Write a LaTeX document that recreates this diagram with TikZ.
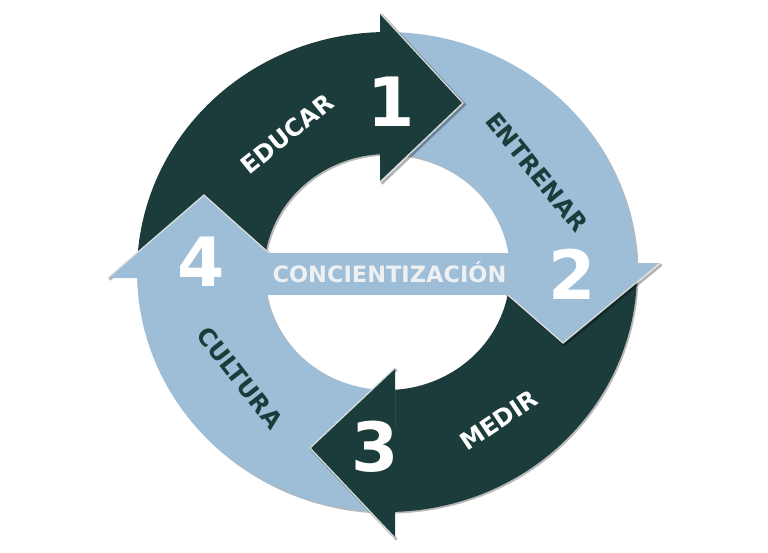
\documentclass[tikz,border=0pt]{standalone}
\usepackage{fontspec}
\setmainfont{DejaVu Sans}
\definecolor{dk}{HTML}{1B3C3A}
\definecolor{lt}{HTML}{9EBDD7}
\definecolor{edgec}{HTML}{D9DCDE}
\definecolor{bantxt}{HTML}{EEF0F1}
\newcommand\bodyone{plot[domain=181.43:91.6,samples=60] ({387+250*cos(\x)},{272-240*sin(\x)})
  -- plot[domain=93.26:182.9,samples=60] ({387+123*cos(\x)},{272-118*sin(\x)}) -- cycle}
\newcommand\bodytwo{plot[domain=91.6:2.15,samples=60] ({387+250*cos(\x)},{272-240*sin(\x)})
  -- plot[domain=4.37:93.26,samples=60] ({387+123*cos(\x)},{272-118*sin(\x)}) -- cycle}
\newcommand\bodythree{plot[domain=2.15:-88.17,samples=60] ({387+250*cos(\x)},{272-240*sin(\x)})
  -- plot[domain=-86.27:4.37,samples=60] ({387+123*cos(\x)},{272-118*sin(\x)}) -- cycle}
\newcommand\bodyfour{plot[domain=-88.17:-178.57,samples=60] ({387+250*cos(\x)},{272-240*sin(\x)})
  -- plot[domain=-177.1:-86.27,samples=60] ({387+123*cos(\x)},{272-118*sin(\x)}) -- cycle}
\begin{document}
\begin{tikzpicture}[x=1pt,y=-1pt,
  shfill/.style={fill=black, opacity=.28},
  shline/.style={draw=black, draw opacity=.3, line width=2.6pt, line join=miter},
  lbl/.style={font=\bfseries\fontsize{24}{24}\selectfont, inner sep=0pt},
  num/.style={font=\bfseries\fontsize{68}{68}\selectfont, text=white, inner sep=0pt},
  hedge/.style={draw=edgec, line width=1.3pt, line join=miter}]
\useasboundingbox (0,0) rectangle (768,552);
% body shadows
\begin{scope}[shift={(1.6,1.6)}]
  \fill[shfill] \bodyone \bodytwo \bodythree \bodyfour;
\end{scope}
% bodies
\fill[dk] \bodyone;
\fill[lt] \bodytwo;
\fill[dk] \bodythree;
\fill[lt] \bodyfour;
% heads
\draw[shline] (381.6,14.6) -- (464.6,104.6) -- (381.6,183.6);
\fill[dk] (380,13) -- (463,103) -- (380,182) -- cycle;
\draw[hedge] (380,13) -- (463,103) -- (380,182);
\draw[shline] (661.6,264.6) -- (564.6,344.6) -- (472.6,264.6);
\fill[lt] (660,263) -- (563,343) -- (471,263) -- cycle;
\draw[hedge] (660,263) -- (563,343) -- (471,263);
\draw[shline] (396.6,539.6) -- (311.6,449.6) -- (396.6,369.6);
\fill[dk] (395,538) -- (310,448) -- (395,368) -- cycle;
\draw[hedge] (395,538) -- (310,448) -- (395,368);
\draw[shline] (109.6,279.6) -- (205.6,196.6) -- (298.6,279.6);
\fill[lt] (108,278) -- (204,195) -- (297,278) -- cycle;
\draw[hedge] (108,278) -- (204,195) -- (297,278);
% banner
\fill[lt] (250,253) rectangle (527,295);
\node[font=\bfseries\fontsize{22.5}{22.5}\selectfont, text=bantxt, anchor=base, inner sep=0pt] (conc) at (389.5,282) {CONCIENTIZACIÓN};
% labels
\node[lbl, text=white, rotate=39] (educar) at (287,134) {EDUCAR};
\node[lbl, text=dk, rotate=-51] (entrenar) at (537,172) {ENTRENAR};
\node[lbl, text=white, rotate=34] (medir) at (499,420) {MEDIR};
\node[lbl, text=dk, rotate=-52] (cultura) at (240,378) {CULTURA};
% numbers
\node[num] (n1) at (391,102) {1};
\node[num] (n2) at (572,274) {2};
\node[num] (n3) at (375,447) {3};
\node[num] (n4) at (201,262) {4};
\end{tikzpicture}
\end{document}
